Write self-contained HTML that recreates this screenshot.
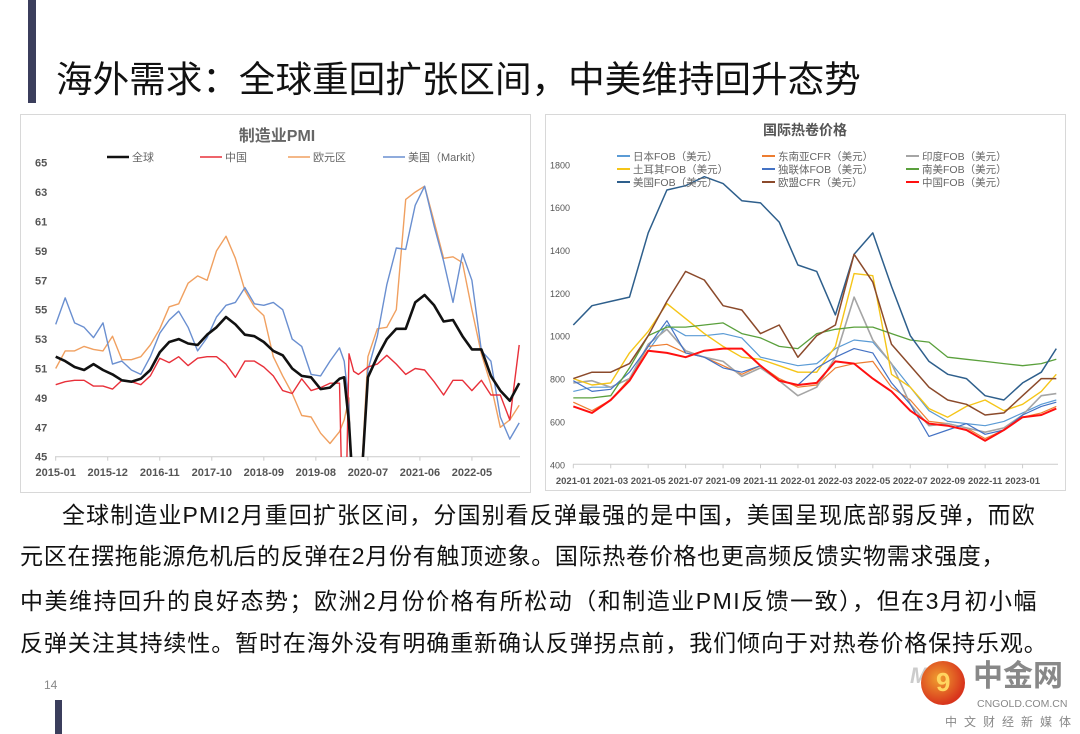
<!DOCTYPE html>
<html><head><meta charset="utf-8">
<style>
body{margin:0;width:1080px;height:734px;background:#fff;overflow:hidden;position:relative;font-family:"Liberation Sans","Noto Sans CJK SC",sans-serif;}
.abs{position:absolute;}
.para{position:absolute;left:20px;font-size:23px;color:#111;white-space:nowrap;line-height:26px;}
</style></head><body>
<div class="abs" style="left:28px;top:0;width:8px;height:103px;background:#3b3e5c"></div>
<div class="abs" style="left:56px;top:58px;font-size:36.6px;line-height:44px;color:#111;white-space:nowrap">海外需求：全球重回扩张区间，中美维持回升态势</div>

<svg class="abs" style="left:0;top:0" width="1080" height="500">
<defs>
<clipPath id="cl"><rect x="50" y="150" width="475" height="307"/></clipPath>
<clipPath id="cr"><rect x="570" y="150" width="490" height="315"/></clipPath>
</defs>
<rect x="20.5" y="114.5" width="510" height="378" fill="#fff" stroke="#d8d8d8"/>
<rect x="545.5" y="114.5" width="520" height="376" fill="#fff" stroke="#d8d8d8"/>
<g id="L"></g><g id="R"></g>
</svg>

<div class="para" style="top:502px;left:62px;letter-spacing:1.1px">全球制造业PMI2月重回扩张区间，分国别看反弹最强的是中国，美国呈现底部弱反弹，而欧</div>
<div class="para" style="top:543px;letter-spacing:0.7px">元区在摆拖能源危机后的反弹在2月份有触顶迹象。国际热卷价格也更高频反馈实物需求强度，</div>
<div class="para" style="top:588px;letter-spacing:1.5px">中美维持回升的良好态势；欧洲2月份价格有所松动（和制造业PMI反馈一致），但在3月初小幅</div>
<div class="para" style="top:630px;letter-spacing:0.9px">反弹关注其持续性。暂时在海外没有明确重新确认反弹拐点前，我们倾向于对热卷价格保持乐观。</div>

<div class="abs" style="left:44px;top:678px;font-size:12px;color:#888">14</div>
<div class="abs" style="left:55px;top:700px;width:7px;height:34px;background:#3b3e5c"></div>

<div class="abs" style="left:900px;top:655px;width:180px;height:79px">
 <div class="abs" style="left:10px;top:8px;font-size:22px;font-weight:bold;font-style:italic;color:#ccc">M</div>
 <div class="abs" style="left:21px;top:6px;width:44px;height:44px;border-radius:50%;background:radial-gradient(circle at 40% 40%,#f0a030,#d8341c 70%)"></div>
 <div class="abs" style="left:36px;top:12px;font-size:26px;font-weight:bold;color:#ffd560">9</div>
 <div class="abs" style="left:73px;top:4px;font-size:30px;font-weight:bold;color:#888;line-height:36px">中金网</div>
 <div class="abs" style="left:77px;top:43px;font-size:10.5px;color:#888">CNGOLD.COM.CN</div>
 <div class="abs" style="left:45px;top:58px;font-size:12px;color:#888;letter-spacing:7px">中文财经新媒体</div>
</div>

<script>
// ---------- Left chart data (PMI) ----------
const pmiMonths=[0,2,4,6,8,10,12,14,16,18,20,22,24,26,28,30,32,34,36,38,40,42,44,46,48,50,52,54,56,58,60,61,62,63,64,66,68,70,72,74,76,78,80,82,84,86,88,90,92,94,96,98];
const pmiGlobal=[51.8,51.5,51.1,50.9,51.3,50.9,50.6,50.2,50.1,50.3,50.9,52.1,52.8,53.0,52.7,52.6,53.3,53.8,54.5,54.0,53.3,53.2,52.8,52.2,51.9,51.0,50.5,50.4,49.6,49.7,50.3,50.4,47.3,42,40,50.4,51.8,53.0,53.7,53.7,55.5,56.0,55.3,54.2,54.3,53.2,52.3,52.3,50.5,49.5,48.8,50.0];
const pmiChina=[49.9,50.1,50.2,50.2,49.8,49.8,49.6,50.2,50.1,49.9,50.5,51.7,51.4,51.8,51.2,51.7,51.8,51.8,51.3,50.4,51.5,51.5,51.1,50.5,49.5,49.3,50.3,49.5,49.7,50.0,50.0,35.7,52.0,50.8,50.6,51.1,51.3,51.9,51.3,50.6,51.0,50.9,50.1,49.2,50.2,50.2,49.5,50.2,49.2,49.2,47.5,52.6];
const pmiEuro=[51.0,52.2,52.2,52.5,52.3,52.2,53.2,51.6,51.6,51.8,52.6,53.7,55.2,55.4,56.8,57.3,57.0,59.0,60.0,58.5,56.3,55.2,54.6,51.8,50.5,49.3,47.8,47.7,46.6,45.9,46.7,47.5,49.0,33,40,51.8,53.7,53.8,55.0,62.5,63.0,63.4,61.0,58.5,58.6,58.2,55.0,52.0,49.9,47.0,47.5,48.5];
const pmiUS=[54.0,55.8,54.1,53.8,53.1,54.1,51.3,51.5,50.9,50.6,51.8,53.4,54.3,54.9,53.8,52.2,53.1,54.5,55.3,55.5,56.5,55.4,55.3,55.5,55.0,53.0,52.5,50.6,50.5,51.5,52.4,51.5,48.5,36.1,39.8,50.9,53.2,56.7,59.2,59.1,62.1,63.4,60.7,58.3,55.5,58.8,57.0,52.2,51.5,47.7,46.2,47.3];
const pmiYTicks=[45,47,49,51,53,55,57,59,61,63,65];
const pmiXLabels=["2015-01","2015-12","2016-11","2017-10","2018-09","2019-08","2020-07","2021-06","2022-05"];

// ---------- Right chart data (HRC prices) ----------
const hrcMonths=[0,1,2,3,4,5,6,7,8,9,10,11,12,13,14,15,16,17,18,19,20,21,22,23,24,25,25.8];
const hrcUS=[1050,1140,1160,1180,1480,1680,1700,1742,1710,1630,1620,1530,1330,1300,1097,1380,1480,1230,1000,880,820,800,720,700,780,830,940];
const hrcEU=[800,830,830,870,1000,1160,1300,1260,1140,1120,1010,1050,900,1000,1050,1380,1250,960,860,760,700,680,630,640,720,800,800];
const hrcTurkey=[800,770,780,920,1020,1150,1080,1010,950,900,890,860,830,830,950,1290,1280,820,760,660,620,670,700,650,680,740,820];
const hrcSAm=[710,710,720,850,1000,1040,1040,1050,1060,1010,990,950,940,1010,1030,1040,1040,1010,980,970,900,890,880,870,860,870,890];
const hrcJapan=[740,760,760,800,930,1050,1000,1000,1010,990,900,880,860,870,940,980,970,870,760,650,600,590,580,600,640,680,700];
const hrcSEA=[690,650,700,800,950,960,920,900,860,820,860,800,760,770,850,870,880,760,700,600,590,570,520,560,620,640,670];
const hrcIndia=[780,790,760,800,960,1030,930,900,880,810,850,790,720,760,900,1180,980,870,680,580,590,570,550,570,630,720,730];
const hrcCIS=[790,740,750,830,950,1070,920,900,850,830,860,790,770,850,900,940,920,780,680,530,560,590,540,560,630,670,690];
const hrcChina=[670,640,700,790,930,920,900,930,940,940,860,790,770,780,880,870,800,740,650,590,580,560,510,560,620,630,660];
const hrcYTicks=[400,600,800,1000,1200,1400,1600,1800];
const hrcXLabels=["2021-01","2021-03","2021-05","2021-07","2021-09","2021-11","2022-01","2022-03","2022-05","2022-07","2022-09","2022-11","2023-01"];

const NS="http://www.w3.org/2000/svg";
function mk(parent,tag,attrs,text){const e=document.createElementNS(NS,tag);for(const k in attrs)e.setAttribute(k,attrs[k]);if(text!==undefined)e.textContent=text;parent.appendChild(e);return e;}

const xL=m=>55.7+m*4.73, yL=v=>456.7-(v-45)*14.7;
const xR=m=>573.3+m*18.72, yR=v=>464.3-(v-400)*0.2143;

const L=document.getElementById('L'), R=document.getElementById('R');
const FONT='"Liberation Sans","Noto Sans CJK SC",sans-serif';

let t=mk(L,'text',{x:277,y:141,'text-anchor':'middle','font-size':16,'font-weight':'bold',fill:'#666','font-family':FONT},'制造业PMI');


pmiYTicks.forEach(v=>{const e=mk(L,'text',{x:35,y:yL(v)+4,'font-size':11,'font-weight':'bold',fill:'#555','font-family':FONT},String(v));

});
let ax=mk(L,'line',{x1:55,x2:520,y1:yL(45),y2:yL(45),stroke:'#ccc'});


pmiXLabels.forEach((s,i)=>{const x=xL(i*11);mk(L,'line',{x1:x,x2:x,y1:yL(45),y2:yL(45)+4,stroke:'#ccc'});
const e=mk(L,'text',{x:x,y:476,'text-anchor':'middle','font-size':11,'font-weight':'bold',fill:'#555','font-family':FONT},s);

});
const pmiSeries=[[pmiEuro,'#f0a060',1.4,'欧元区',288],[pmiUS,'#6a8fd0',1.4,'美国（Markit）',383],[pmiChina,'#e8303a',1.4,'中国',200],[pmiGlobal,'#111',2.6,'全球',107]];
pmiSeries.forEach(s=>{const d=s[0].map((v,i)=>(i?'L':'M')+xL(pmiMonths[i]).toFixed(1)+','+yL(v).toFixed(1)).join('');
const p=mk(L,'path',{d:d,fill:'none',stroke:s[1],'stroke-width':s[2],'clip-path':'url(#cl)','stroke-linejoin':'round'});


const g=mk(L,'g',{});


mk(g,'line',{x1:s[4],x2:s[4]+22,y1:157,y2:157,stroke:s[1],'stroke-width':s[2]});
mk(g,'text',{x:s[4]+25,y:161,'font-size':11,fill:'#666','font-family':FONT},s[3]);});

t=mk(R,'text',{x:805,y:135,'text-anchor':'middle','font-size':14,'font-weight':'bold',fill:'#555','font-family':FONT},'国际热卷价格');


hrcYTicks.forEach(v=>{const e=mk(R,'text',{x:550,y:yR(v)+4,'font-size':9,fill:'#555','font-family':FONT},String(v));

});
ax=mk(R,'line',{x1:573,x2:1058,y1:yR(400),y2:yR(400),stroke:'#ccc'});


hrcXLabels.forEach((s,i)=>{const x=xR(i*2);mk(R,'line',{x1:x,x2:x,y1:yR(400),y2:yR(400)+4,stroke:'#ccc'});
const e=mk(R,'text',{x:x,y:484,'text-anchor':'middle','font-size':9.5,'font-weight':'bold',fill:'#555','font-family':FONT},s);

});
const hrcSeries=[
 [hrcJapan,'#5b9bd5',1.2,'日本FOB（美元）',617,156],[hrcSEA,'#ed7d31',1.2,'东南亚CFR（美元）',762,156],[hrcIndia,'#a5a5a5',1.6,'印度FOB（美元）',906,156],
 [hrcTurkey,'#f5c518',1.4,'土耳其FOB（美元）',617,169],[hrcCIS,'#4472c4',1.2,'独联体FOB（美元）',762,169],[hrcSAm,'#5aa03c',1.3,'南美FOB（美元）',906,169],
 [hrcUS,'#2e5f8c',1.5,'美国FOB（美元）',617,182],[hrcEU,'#8b4a2b',1.5,'欧盟CFR（美元）',762,182],[hrcChina,'#ff1010',2,'中国FOB（美元）',906,182]];
hrcSeries.forEach(s=>{const d=s[0].map((v,i)=>(i?'L':'M')+xR(hrcMonths[i]).toFixed(1)+','+yR(v).toFixed(1)).join('');
const p=mk(R,'path',{d:d,fill:'none',stroke:s[1],'stroke-width':s[2],'clip-path':'url(#cr)','stroke-linejoin':'round'});


const g=mk(R,'g',{});


mk(g,'line',{x1:s[4],x2:s[4]+13,y1:s[5],y2:s[5],stroke:s[1],'stroke-width':2});
mk(g,'text',{x:s[4]+16,y:s[5]+4,'font-size':10.5,fill:'#666','font-family':FONT},s[3]);});
</script>
</body></html>
